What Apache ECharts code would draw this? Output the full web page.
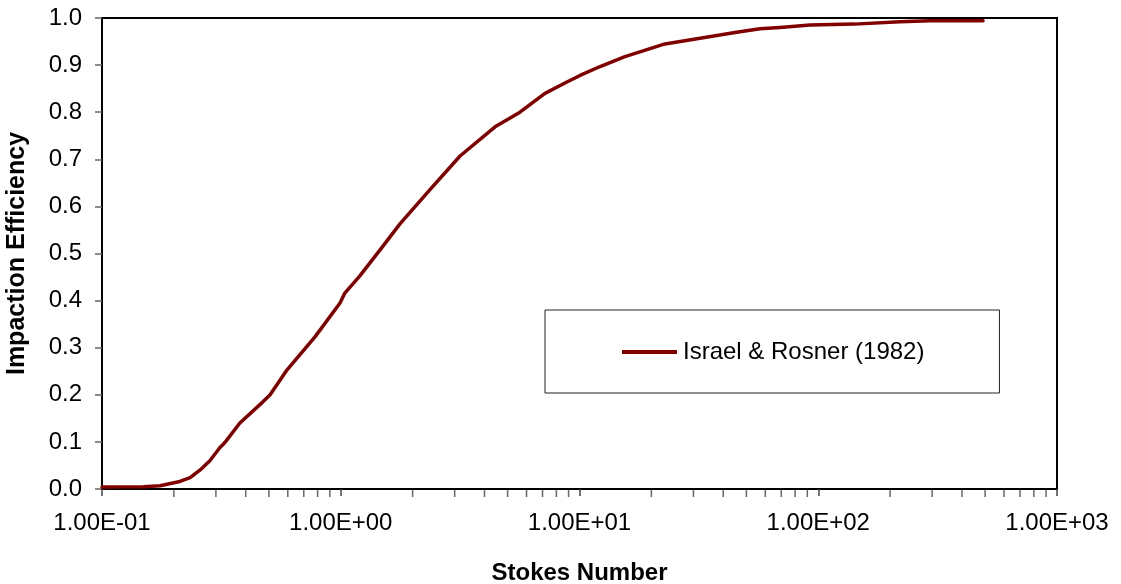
<!DOCTYPE html>
<html>
<head>
<meta charset="utf-8">
<script src="https://cdn.jsdelivr.net/npm/echarts@6/dist/echarts.min.js"></script>
<style>
html,body{margin:0;padding:0;background:#fff;}
#chart{width:1121px;height:584px;}
</style>
</head>
<body>
<div id="chart"></div>
<script>
const seriesName = 'Israel & Rosner (1982)';
const stokes = [0.1, 0.149, 0.175, 0.212, 0.234, 0.257, 0.283, 0.312, 0.322, 0.330, 0.378, 0.472, 0.506, 0.596, 0.780, 0.993, 1.04, 1.20, 1.50, 1.77, 2.37, 3.16, 4.43, 5.63, 7.17, 8.69, 10.05, 12.2, 15.5, 17.9, 22.8, 32.0, 44.8, 57.0, 69.2, 92.3, 142, 220, 294, 490];
const efficiency = [0.004, 0.005, 0.007, 0.016, 0.024, 0.040, 0.060, 0.088, 0.095, 0.101, 0.140, 0.185, 0.200, 0.253, 0.323, 0.395, 0.416, 0.452, 0.515, 0.563, 0.636, 0.707, 0.769, 0.800, 0.840, 0.862, 0.878, 0.897, 0.918, 0.928, 0.945, 0.957, 0.969, 0.977, 0.980, 0.985, 0.987, 0.992, 0.994, 0.994];
const minorTicks = [0.2,0.3,0.4,0.5,0.6,0.7,0.8,0.9, 2,3,4,5,6,7,8,9, 20,30,40,50,60,70,80,90, 200,300,400,500,600,700,800,900];
const xTitle = 'Stokes Number';
const yTitle = 'Impaction Efficiency';

const FONT = "'Liberation Sans', Arial, sans-serif";

function sciLabel(v) {
  const e = Math.round(Math.log10(v));
  const m = (v / Math.pow(10, e)).toFixed(2);
  const s = e < 0 ? '-' : '+';
  const a = Math.abs(e);
  return m + 'E' + s + (a < 10 ? '0' + a : '' + a);
}

const chart = echarts.init(document.getElementById('chart'), null, {renderer: 'canvas'});
chart.setOption({
  backgroundColor: '#fff',
  animation: false,
  grid: {
    left: 102, right: 64, top: 18, bottom: 95,
    containLabel: false, outerBoundsMode: 'none',
    show: true, borderColor: '#000', borderWidth: 2, backgroundColor: 'transparent'
  },
  legend: {
    data: [{name: seriesName, icon: 'rect'}],
    left: 545, top: 310,
    orient: 'horizontal',
    padding: [30, 75, 29, 77],
    borderColor: '#222', borderWidth: 1,
    backgroundColor: '#fff',
    itemWidth: 55, itemHeight: 4, itemGap: 6,
    itemStyle: {color: '#800000'},
    textStyle: {fontFamily: FONT, fontSize: 24, color: '#000', padding: [0, 0, 0, 1]}
  },
  xAxis: {
    type: 'log', logBase: 10, min: 0.1, max: 1000,
    name: xTitle, nameLocation: 'middle', nameGap: 72,
    nameTextStyle: {fontFamily: FONT, fontSize: 24, fontWeight: 'bold', color: '#000'},
    axisLine: {show: true, lineStyle: {color: '#000', width: 2}},
    axisTick: {show: true, inside: false, length: 7, lineStyle: {color: '#444', width: 1.5}},
    axisLabel: {fontFamily: FONT, fontSize: 24, color: '#000', margin: 22, formatter: sciLabel},
    splitLine: {show: false}
  },
  yAxis: {
    type: 'value', min: 0, max: 1, interval: 0.1,
    name: yTitle, nameLocation: 'middle', nameGap: 72, nameRotate: 90,
    nameTextStyle: {fontFamily: FONT, fontSize: 25, fontWeight: 'bold', color: '#000'},
    axisLine: {show: true, lineStyle: {color: '#000', width: 2}},
    axisTick: {show: true, inside: false, length: 7, lineStyle: {color: '#666', width: 1.5}},
    axisLabel: {fontFamily: FONT, fontSize: 24, color: '#000', margin: 20, formatter: v => v.toFixed(1)},
    splitLine: {show: false}
  },
  series: [
    {
      name: seriesName,
      type: 'line',
      data: stokes.map((x, i) => [x, efficiency[i]]),
      showSymbol: false,
      symbol: 'none',
      smooth: false,
      color: '#800000',
      lineStyle: {color: '#800000', width: 3.5, join: 'round', cap: 'round'},
      z: 5
    },
    {
      name: 'minor',
      type: 'scatter',
      data: minorTicks.map(x => [x, 0]),
      symbol: 'rect',
      symbolSize: [1.5, 7],
      symbolOffset: [0, 4.5],
      itemStyle: {color: '#444'},
      clip: false,
      silent: true,
      z: 1
    }
  ]
});
</script>
</body>
</html>
